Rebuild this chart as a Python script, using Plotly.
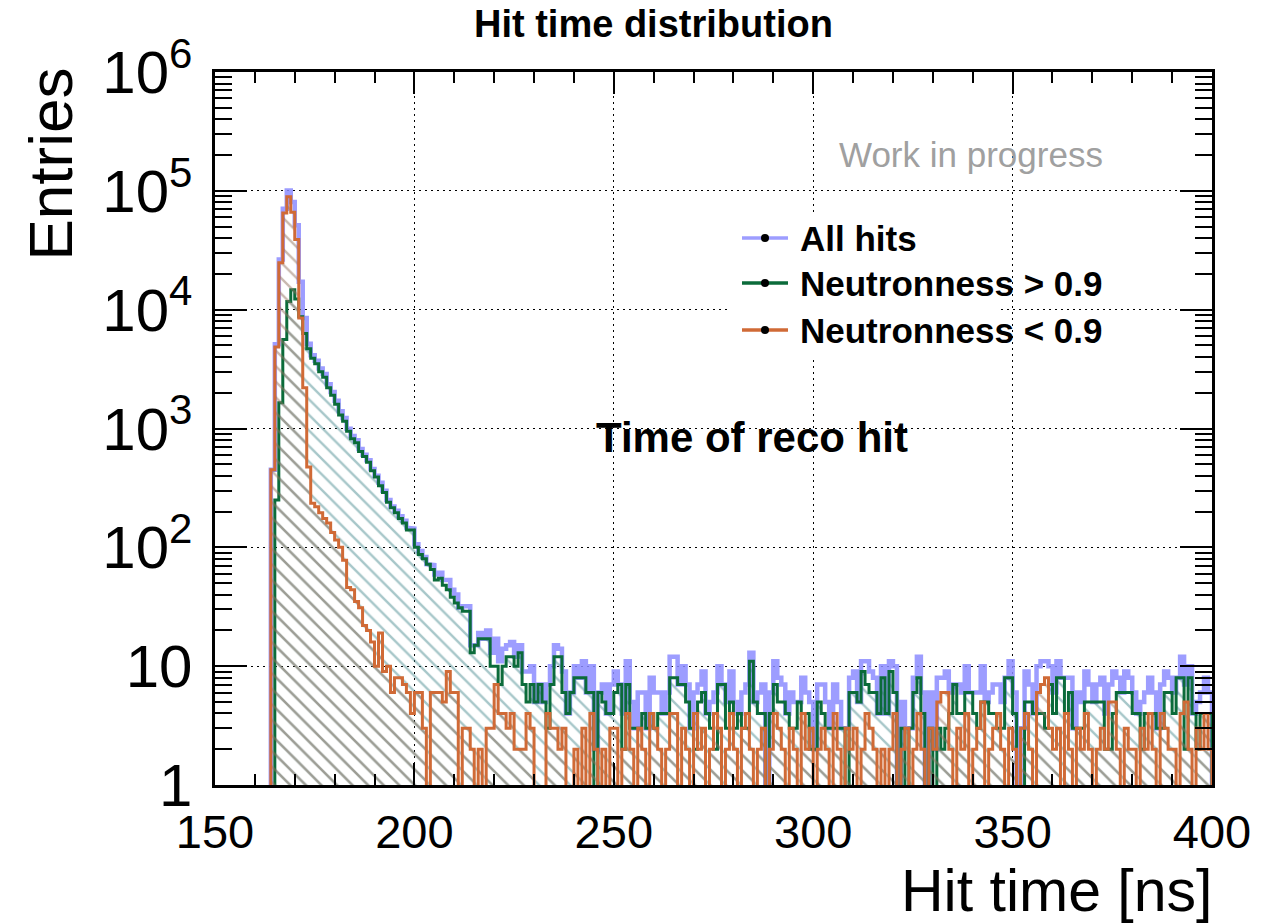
import plotly.graph_objects as go

# ---------------- data (1 ns bins, 150..400 ns) ----------------
bin_edges = list(range(150, 401))

neut_low = [  # Neutronness < 0.9
    0, 0, 0, 0, 0, 0, 0, 0, 0, 0,
    0, 0, 0, 0, 450, 4860, 24800, 65000, 89000, 66000,
    39000, 8500, 2200, 475, 235, 220, 195, 175, 160, 133,
    115, 100, 78, 46, 44, 35, 31, 22, 20, 16,
    10, 19, 9, 10, 6, 8, 8, 7, 6, 4,
    6, 6, 3, 0, 6, 6, 6, 5, 9, 6,
    6, 0, 3, 3, 2, 0, 2, 0, 3, 3,
    7, 4, 4, 3, 4, 2, 2, 2, 4, 3,
    0, 0, 0, 4, 3, 3, 2, 3, 0, 0,
    2, 0, 3, 0, 4, 2, 0, 2, 0, 3,
    3, 0, 2, 4, 2, 0, 3, 2, 0, 4,
    3, 2, 0, 2, 4, 4, 0, 3, 2, 0,
    4, 2, 3, 0, 2, 4, 3, 0, 2, 4,
    2, 0, 3, 4, 2, 0, 2, 3, 0, 2,
    4, 3, 2, 0, 3, 2, 0, 4, 2, 3,
    0, 2, 3, 2, 0, 4, 2, 0, 3, 2,
    3, 0, 2, 4, 3, 2, 0, 2, 0, 2,
    4, 0, 2, 3, 0, 2, 4, 2, 0, 3,
    2, 5, 6, 6, 2, 0, 3, 2, 4, 0,
    2, 3, 5, 0, 2, 3, 4, 2, 0, 3,
    2, 0, 3, 4, 2, 0, 6, 7, 8, 3,
    2, 3, 0, 4, 2, 0, 3, 2, 4, 2,
    0, 2, 3, 2, 5, 5, 2, 0, 3, 2,
    2, 0, 3, 2, 4, 2, 0, 4, 3, 2,
    2, 0, 4, 5, 2, 0, 3, 2, 4, 2,
]

neut_high = [  # Neutronness > 0.9
    0, 0, 0, 0, 0, 0, 0, 0, 0, 0,
    0, 0, 0, 0, 0, 250, 1650, 5600, 11700, 14700,
    12300, 8700, 6300, 4700, 3900, 3500, 3000, 2700, 2200, 1900,
    1600, 1300, 1150, 950, 820, 760, 640, 580, 520, 440,
    390, 330, 290, 240, 215, 195, 175, 160, 140, 140,
    100, 87, 80, 72, 65, 53, 55, 48, 44, 38,
    34, 31, 29, 29, 13, 15, 17, 17, 17, 10,
    10, 7, 10, 12, 12, 10, 13, 7, 5, 7,
    5, 7, 5, 3, 7, 12, 12, 6, 4, 6,
    8, 8, 8, 6, 6, 0, 6, 5, 4, 4,
    6, 7, 2, 7, 3, 3, 3, 4, 3, 4,
    3, 4, 4, 4, 8, 8, 7, 7, 5, 3,
    2, 5, 6, 4, 3, 2, 7, 7, 3, 5,
    3, 4, 3, 3, 11, 5, 4, 4, 0, 4,
    7, 5, 5, 4, 3, 3, 5, 4, 4, 2,
    2, 5, 4, 3, 3, 3, 3, 3, 0, 6,
    6, 5, 9, 7, 6, 6, 4, 8, 4, 9,
    6, 0, 3, 0, 3, 6, 8, 4, 0, 3,
    0, 3, 2, 3, 4, 7, 4, 4, 6, 6,
    4, 3, 5, 5, 4, 4, 3, 3, 8, 8,
    4, 0, 0, 5, 5, 4, 4, 4, 3, 7,
    4, 8, 8, 4, 6, 3, 3, 3, 5, 5,
    5, 5, 5, 2, 2, 4, 6, 6, 6, 6,
    4, 4, 2, 4, 4, 4, 3, 3, 6, 6,
    4, 8, 8, 2, 8, 4, 2, 4, 4, 4,
]

all_hits = [
    0, 0, 0, 0, 0, 0, 0, 0, 0, 0,
    0, 0, 0, 0, 450, 5110, 26450, 70600, 100700, 80700,
    51300, 17200, 8500, 5175, 4135, 3720, 3195, 2875, 2360, 2033,
    1715, 1400, 1228, 996, 864, 795, 671, 602, 540, 456,
    400, 349, 299, 250, 221, 203, 183, 167, 146, 144,
    106, 93, 83, 72, 71, 59, 61, 53, 53, 44,
    40, 31, 32, 32, 15, 15, 19, 17, 20, 13,
    17, 11, 14, 15, 16, 12, 15, 9, 9, 10,
    5, 7, 5, 7, 10, 15, 14, 9, 4, 6,
    10, 8, 11, 6, 10, 2, 6, 7, 4, 7,
    9, 7, 4, 11, 5, 3, 6, 6, 3, 8,
    6, 6, 4, 6, 12, 12, 7, 10, 7, 3,
    6, 7, 9, 4, 5, 6, 10, 7, 5, 9,
    5, 4, 6, 7, 13, 5, 6, 7, 0, 6,
    11, 8, 7, 4, 6, 5, 5, 8, 6, 5,
    2, 7, 7, 5, 3, 7, 5, 3, 3, 8,
    9, 5, 11, 11, 9, 8, 4, 10, 4, 11,
    10, 0, 5, 3, 3, 8, 12, 6, 0, 6,
    2, 8, 8, 9, 6, 7, 7, 6, 10, 6,
    6, 6, 10, 5, 6, 7, 7, 5, 8, 11,
    6, 0, 3, 9, 7, 4, 10, 11, 11, 10,
    6, 11, 8, 8, 8, 3, 6, 5, 9, 7,
    5, 7, 8, 4, 7, 9, 8, 6, 9, 8,
    6, 4, 5, 6, 8, 6, 3, 7, 9, 8,
    6, 8, 12, 7, 10, 4, 5, 6, 8, 6,
]

series_names = ["All hits", "Neutronness > 0.9", "Neutronness < 0.9"]
line_colors = ["rgba(140,140,255,0.85)", "#0b6b3a", "#d06a36"]

FLOOR = 0.2  # drawing floor for empty bins on the log axis


def step_xy(vals):
    xs, ys = [bin_edges[0]], [FLOOR]
    for i, v in enumerate(vals):
        y = v if v > 0 else FLOOR
        xs += [bin_edges[i], bin_edges[i + 1]]
        ys += [y, y]
    xs.append(bin_edges[-1])
    ys.append(FLOOR)
    return xs, ys


# plot-area geometry in pixels
L, R, T, B = 215, 1212, 72, 785


def px(x):
    return (x - L) / (R - L)


def py(y):
    return (B - y) / (B - T)


FONT = "Liberation Sans, Arial, Helvetica, sans-serif"

fig = go.Figure()

xb, yb = step_xy(all_hits)
fig.add_trace(go.Scatter(x=xb, y=yb, mode="lines", showlegend=False,
                         line=dict(color=line_colors[0], width=4.5),
                         hoverinfo="skip"))

xg, yg = step_xy(neut_high)
fig.add_trace(go.Scatter(x=xg, y=yg, mode="lines", showlegend=False,
                         fill="toself", fillcolor="rgba(0,0,0,0)",
                         fillpattern=dict(shape="\\", fgcolor="#4f8f94",
                                          bgcolor="rgba(0,0,0,0)", size=11,
                                          solidity=0.22),
                         line=dict(color=line_colors[1], width=3),
                         hoverinfo="skip"))

xo, yo = step_xy(neut_low)
fig.add_trace(go.Scatter(x=xo, y=yo, mode="lines", showlegend=False,
                         fill="toself", fillcolor="rgba(0,0,0,0)",
                         fillpattern=dict(shape="\\", fgcolor="#94735f",
                                          bgcolor="rgba(0,0,0,0)", size=11,
                                          solidity=0.22),
                         line=dict(color=line_colors[2], width=3),
                         hoverinfo="skip"))

grid_dash = "2px,4px"

fig.update_layout(
    width=1271, height=924, autosize=False,
    margin=dict(l=L, r=1271 - R, t=T, b=924 - B),
    paper_bgcolor="white", plot_bgcolor="white",
    showlegend=False,
    font=dict(family=FONT, color="black"),
    xaxis=dict(
        range=[150, 400], tick0=150, dtick=50,
        ticks="inside", ticklen=22, tickwidth=2, tickcolor="black",
        minor=dict(dtick=10, ticks="inside", ticklen=11, tickwidth=2,
                   tickcolor="black", showgrid=False),
        showgrid=True, gridcolor="black", gridwidth=1.3, griddash=grid_dash,
        showline=True, linewidth=3, linecolor="black", mirror="allticks",
        zeroline=False, tickfont=dict(size=47, family=FONT, color="black"),
        ticklabelstandoff=4,
    ),
    yaxis=dict(
        type="log", range=[0, 6], dtick=1,
        exponentformat="power", showexponent="all",
        ticks="inside", ticklen=32, tickwidth=2, tickcolor="black",
        minor=dict(ticks="inside", ticklen=17, tickwidth=2, tickcolor="black",
                   showgrid=False),
        showgrid=True, gridcolor="black", gridwidth=1.3, griddash=grid_dash,
        showline=True, linewidth=3, linecolor="black", mirror="allticks",
        zeroline=False, tickfont=dict(size=48, family=FONT, color="black"),
        ticklabelstandoff=10,
    ),
)

shapes = []
# white legend box (masks grid like the ROOT TLegend)
shapes.append(dict(type="rect", xref="paper", yref="paper",
                   x0=px(728), x1=px(998), y0=py(356), y1=py(212),
                   fillcolor="white", line=dict(width=0), layer="above"))
legend_rows = [238, 283, 330]
annotations = []
for name, col, yrow in zip(series_names, line_colors, legend_rows):
    shapes.append(dict(type="line", xref="paper", yref="paper",
                       x0=px(742), x1=px(788), y0=py(yrow), y1=py(yrow),
                       line=dict(color=col, width=3.5), layer="above"))
    shapes.append(dict(type="circle", xref="paper", yref="paper",
                       x0=px(761), x1=px(769), y0=py(yrow + 4), y1=py(yrow - 4),
                       fillcolor="black", line=dict(color="black", width=0),
                       layer="above"))
    annotations.append(dict(xref="paper", yref="paper", x=px(798), y=py(yrow),
                            xanchor="left", yanchor="middle", showarrow=False,
                            text="<b>%s</b>" % name,
                            font=dict(size=35, family=FONT, color="black")))

annotations += [
    dict(xref="paper", yref="paper", x=px(653), y=py(24), xanchor="center",
         yanchor="middle", showarrow=False, text="<b>Hit time distribution</b>",
         font=dict(size=38, family=FONT, color="black")),
    dict(xref="paper", yref="paper", x=px(971), y=py(155), xanchor="center",
         yanchor="middle", showarrow=False, text="Work in progress",
         font=dict(size=35, family=FONT, color="#a0a0a0")),
    dict(xref="paper", yref="paper", x=px(752), y=py(438), xanchor="center",
         yanchor="middle", showarrow=False, text="<b>Time of reco hit</b>",
         font=dict(size=42, family=FONT, color="black")),
    dict(xref="paper", yref="paper", x=px(1214), y=py(891), xanchor="right",
         yanchor="middle", showarrow=False, text="Hit time [ns]",
         font=dict(size=59, family=FONT, color="black")),
    dict(xref="paper", yref="paper", x=px(50), y=py(66), xanchor="center",
         yanchor="top", showarrow=False, text="Entries", textangle=-90,
         font=dict(size=62, family=FONT, color="black")),
]

fig.update_layout(shapes=shapes, annotations=annotations)

fig.write_html("out.html")
